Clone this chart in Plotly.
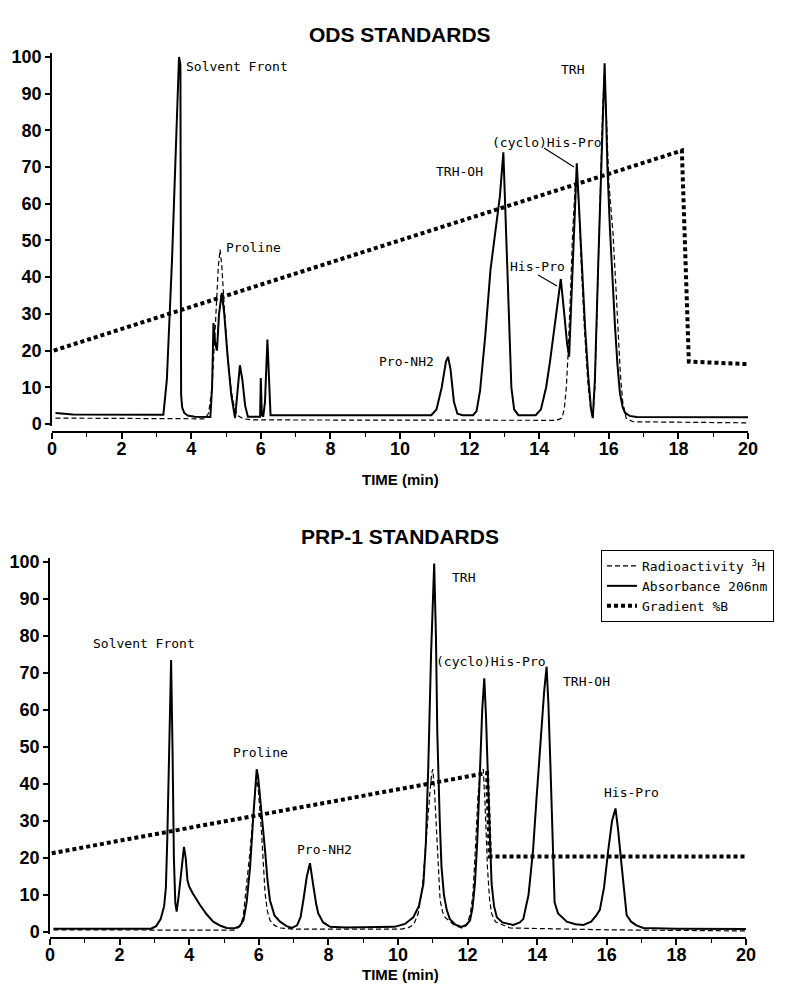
import plotly.graph_objects as go

# ---------------- DATA ----------------
# ODS standards (top panel)
ods_abs_t = [0.1, 0.6, 3.2, 3.3, 3.45, 3.6, 3.65, 3.69, 3.71, 3.74, 3.8, 3.9, 4.1, 4.55,
             4.6, 4.64, 4.69, 4.74, 4.8, 4.88, 4.95, 5.05, 5.15, 5.26, 5.33, 5.40, 5.47, 5.55, 5.63,
             5.98, 6.0, 6.03, 6.07, 6.12, 6.19, 6.24, 6.28, 6.5,
             10.9, 11.05, 11.2, 11.32, 11.38, 11.45, 11.55, 11.65, 11.8,
             12.1, 12.2, 12.3, 12.45, 12.6, 12.75, 12.87, 12.97, 13.02, 13.1, 13.2, 13.28, 13.4,
             13.9, 14.05, 14.2, 14.31, 14.42, 14.5, 14.62, 14.7, 14.8, 14.86, 14.93, 15.0, 15.08,
             15.15, 15.22, 15.32, 15.41, 15.49, 15.54, 15.6, 15.70, 15.78, 15.82, 15.88, 15.92, 15.96,
             16.03, 16.1, 16.18, 16.25, 16.32, 16.4, 16.47, 16.6, 16.8, 20.0]
ods_abs_v = [3.0, 2.6, 2.5, 12, 45, 88, 100, 98, 8, 4.5, 3.0, 2.3, 2.0, 1.9,
             10, 27.5, 22, 20, 30, 35.7, 30, 18, 8, 1.6, 10, 16, 12, 5, 2.0,
             2.0, 12.5, 2.5, 2.0, 6, 23, 10, 2.4, 2.4,
             2.4, 4, 10, 17, 18.3, 15, 6, 2.8, 2.4,
             2.4, 3.5, 9, 24, 42, 53, 62, 74, 62, 38, 10, 4, 2.4,
             2.4, 4, 10, 17, 25, 31, 39.5, 32, 22, 18.3, 35, 55, 71,
             58, 44.7, 26, 12.9, 4, 1.6, 12, 44.7, 70, 81, 98.3, 85, 70,
             53.7, 40, 26.4, 16, 8.4, 4.5, 3.0, 2.2, 1.9, 1.8]

ods_rad_t = [0.1, 4.4, 4.5, 4.6, 4.7, 4.78, 4.83, 4.88, 4.95, 5.05, 5.15, 5.25, 5.35, 5.5, 5.8,
             14.5, 14.65, 14.72, 14.78, 14.83, 14.9, 14.96, 15.03, 15.08, 15.14, 15.2, 15.3, 15.4,
             15.48, 15.54, 15.6, 15.68, 15.75, 15.82, 15.87, 15.93, 16.0, 16.06, 16.12, 16.2, 16.27,
             16.33, 16.4, 16.5, 16.7, 20.0]
ods_rad_v = [1.6, 1.4, 3, 10, 28, 43, 47.5, 43, 32, 18, 9, 4, 2.2, 1.4, 1.1,
             1.0, 1.6, 4, 10, 19, 36, 52, 64, 67, 60, 45, 26, 11,
             4, 1.8, 10, 38, 62, 85, 95, 84, 66, 58, 52, 38, 25,
             14, 6, 1.5, 0.6, 0.3]

ods_grad_t = [0.05, 18.1, 18.3, 20.0]
ods_grad_v = [20.0, 74.5, 17.0, 16.3]

ods_labels = ["Solvent Front", "TRH", "(cyclo)His-Pro", "TRH-OH", "His-Pro", "Proline", "Pro-NH2"]
ods_label_t = [3.8, 14.97, 14.22, 11.72, 13.94, 5.78, 10.2]
ods_label_v = [97.3, 96.5, 76.8, 68.7, 42.8, 48.0, 16.9]

# PRP-1 standards (bottom panel)
prp_abs_t = [0.1, 2.5, 2.9, 3.05, 3.18, 3.28, 3.33, 3.37, 3.42, 3.48, 3.52, 3.56, 3.6, 3.64, 3.7,
             3.78, 3.85, 3.9, 3.95, 4.0, 4.1, 4.31, 4.5, 4.69, 4.9, 5.08, 5.3, 5.45, 5.56, 5.65,
             5.75, 5.84, 5.9, 5.94, 5.98, 6.03, 6.1, 6.18, 6.25, 6.32, 6.45, 6.61, 6.8, 6.95,
             7.1, 7.2, 7.28, 7.38, 7.47, 7.52, 7.57, 7.65, 7.71, 7.85, 8.05, 8.5, 9.5, 9.9, 10.2,
             10.44, 10.6, 10.73, 10.8, 10.87, 10.95, 11.04, 11.09, 11.13, 11.2, 11.25, 11.32, 11.40,
             11.49, 11.65, 11.83, 11.97, 12.07, 12.14, 12.21, 12.28, 12.36, 12.42, 12.48, 12.53,
             12.59, 12.64, 12.69, 12.76, 12.84, 13.0, 13.31, 13.5, 13.6, 13.75, 13.88, 13.98, 14.1,
             14.2, 14.27, 14.32, 14.38, 14.44, 14.5, 14.6, 14.85, 15.1, 15.33, 15.55, 15.7, 15.8,
             15.92, 16.04, 16.15, 16.25, 16.32, 16.43, 16.5, 16.57, 16.7, 16.85, 17.05, 18.0, 20.0]
prp_abs_v = [0.9, 0.8, 0.9, 1.6, 3.5, 7, 12, 25, 50, 73.5, 50, 20, 8, 5.5, 10,
             18, 23, 20, 14, 12.3, 10.5, 7.3, 4.8, 2.8, 1.7, 1.1, 1.0, 1.6, 3.2, 8,
             17.6, 31, 40, 44, 42, 37.4, 30, 22, 14, 8.6, 4.5, 2.8, 1.6, 1.1,
             1.8, 4, 8.6, 15, 18.6, 16, 12.3, 7.5, 5, 2.6, 1.4, 1.2, 1.2, 1.4, 2.2,
             4, 7, 13, 24, 44.7, 75, 99.6, 80, 53.7, 30, 17.6, 10, 6,
             3.5, 2.0, 1.4, 2.0, 3.2, 6.5, 13, 25, 44.7, 60, 68.6, 58,
             40, 25, 13, 7, 4, 2.6, 1.9, 2.6, 3.5, 10, 22, 36, 52,
             65, 71.7, 62, 45, 25, 8, 5, 2.8, 2.1, 1.9, 2.8, 4.5, 6,
             12, 22, 30, 33.4, 28, 17.6, 10, 4.6, 2.8, 1.8, 1.1, 0.9, 0.8]

prp_rad_t = [0.1, 5.3, 5.45, 5.55, 5.65, 5.75, 5.85, 5.9, 5.94, 5.99, 6.08, 6.18, 6.25, 6.32, 6.45,
             6.61, 7.0, 10.1, 10.3, 10.45, 10.58, 10.7, 10.78, 10.86, 10.92, 10.97, 11.0, 11.05,
             11.11, 11.16, 11.21, 11.28, 11.35, 11.6, 11.83, 11.95, 12.0, 12.08, 12.15, 12.2, 12.25,
             12.3, 12.36, 12.45, 12.5, 12.57, 12.63, 12.69, 12.8, 13.0, 13.22, 16.0, 20.0]
prp_rad_v = [0.6, 0.5, 1.5, 4, 13, 22, 33, 39, 42, 38, 26.7, 10.5, 5.5, 3.2, 1.8,
             1.1, 0.8, 0.8, 1.2, 2, 5, 12, 22, 32, 38, 43, 44, 38,
             26.7, 16, 8.6, 5.5, 4, 2, 1.1, 1.6, 2.5, 5, 10, 18, 28,
             37, 43, 44, 35, 17.6, 9, 5, 2.8, 2, 1.1, 0.6, 0.3]

prp_grad_t = [0.05, 12.56, 12.64, 20.0]
prp_grad_v = [21.3, 43.0, 20.4, 20.4]

prp_labels = ["Solvent Front", "Proline", "Pro-NH2", "TRH", "(cyclo)His-Pro", "TRH-OH", "His-Pro"]
prp_label_t = [2.70, 6.06, 7.90, 11.87, 12.67, 15.43, 16.70]
prp_label_v = [78.1, 48.4, 22.4, 95.9, 73.2, 67.6, 37.6]

y_ticks = [0, 10, 20, 30, 40, 50, 60, 70, 80, 90, 100]
x_ticks = [0, 2, 4, 6, 8, 10, 12, 14, 16, 18, 20]

series_names = ["Radioactivity <sup>3</sup>H", "Absorbance 206nm", "Gradient %B"]

# ---------------- FIGURE ----------------
W, H = 789, 988
LABEL_FONT = dict(family="DejaVu Sans Mono", size=13, color="black")
TICK_FONT = dict(family="Liberation Sans", size=18, color="black", weight="bold")

fig = go.Figure()

RAD_DASH = "5px,3px"
GRAD_DASH = "4px,3px"

def add_panel(xa, ya, rad_t, rad_v, abs_t, abs_v, grad_t, grad_v, legend):
    fig.add_trace(go.Scatter(x=rad_t, y=rad_v, mode="lines", xaxis=xa, yaxis=ya,
                             line=dict(color="black", width=1.2, dash=RAD_DASH),
                             name=series_names[0], showlegend=legend))
    fig.add_trace(go.Scatter(x=abs_t, y=abs_v, mode="lines", xaxis=xa, yaxis=ya,
                             line=dict(color="black", width=2),
                             name=series_names[1], showlegend=legend))
    fig.add_trace(go.Scatter(x=grad_t, y=grad_v, mode="lines", xaxis=xa, yaxis=ya,
                             line=dict(color="black", width=4, dash=GRAD_DASH),
                             name=series_names[2], showlegend=legend))

add_panel("x", "y", ods_rad_t, ods_rad_v, ods_abs_t, ods_abs_v, ods_grad_t, ods_grad_v, False)
add_panel("x2", "y2", prp_rad_t, prp_rad_v, prp_abs_t, prp_abs_v, prp_grad_t, prp_grad_v, True)

xax = dict(range=[0, 20], tickvals=x_ticks, ticks="outside", ticklen=6, tickwidth=1.5,
           tickcolor="black", showline=True, linecolor="black", linewidth=1.5,
           showgrid=False, zeroline=False, tickfont=TICK_FONT, anchor="free",
           ticklabelstandoff=-5,
           minor=dict(dtick=1, ticks="outside", ticklen=4, tickcolor="black", tickwidth=1.2),
           automargin=False)
yax = dict(range=[-0.5, 101], tickvals=y_ticks, ticks="outside", ticklen=5, tickwidth=1.5,
           tickcolor="black", showline=True, linecolor="black", linewidth=1.5,
           showgrid=False, zeroline=False, tickfont=TICK_FONT, automargin=False)

fig.update_layout(
    width=W, height=H,
    margin=dict(l=0, r=0, t=0, b=0),
    paper_bgcolor="white", plot_bgcolor="white",
    xaxis=dict(xax, domain=[52 / W, 748 / W], position=1 - 432 / H),
    yaxis=dict(yax, domain=[1 - 425.8 / H, 1 - 53.3 / H], anchor="x"),
    xaxis2=dict(xax, domain=[50 / W, 746 / W], position=1 - 938 / H),
    yaxis2=dict(yax, domain=[1 - 933.9 / H, 1 - 558.3 / H], anchor="x2"),
    legend=dict(x=601 / W, y=1 - 550 / H, xanchor="left", yanchor="top",
                bgcolor="white", bordercolor="black", borderwidth=1,
                font=dict(family="DejaVu Sans Mono", size=13, color="black"),
                itemwidth=30, tracegroupgap=0),
    showlegend=True,
)

annotations = []
# titles
for txt, yp, sz in [("ODS STANDARDS", 35, 21), ("PRP-1 STANDARDS", 536, 21),
                    ("TIME (min)", 480, 15), ("TIME (min)", 974, 15)]:
    annotations.append(dict(text=txt, x=400 / W, y=1 - yp / H, xref="paper", yref="paper",
                            xanchor="center", yanchor="middle", showarrow=False,
                            font=dict(family="Liberation Sans", size=sz, color="black", weight="bold")))

for i, (lab, t, v) in enumerate(zip(ods_labels, ods_label_t, ods_label_v)):
    annotations.append(dict(text=lab, x=t, y=v, xref="x", yref="y",
                            xanchor="left" if i == 0 else "center", yanchor="middle",
                            showarrow=False, font=LABEL_FONT))
for lab, t, v in zip(prp_labels, prp_label_t, prp_label_v):
    annotations.append(dict(text=lab, x=t, y=v, xref="x2", yref="y2",
                            xanchor="center", yanchor="middle", showarrow=False, font=LABEL_FONT))

fig.update_layout(annotations=annotations)

# pointer lines in the ODS panel
fig.add_shape(type="line", xref="x", yref="y", x0=14.14, y0=75.2, x1=15.0, y1=70.0,
              line=dict(color="black", width=1.2))
fig.add_shape(type="line", xref="x", yref="y", x0=13.97, y0=40.6, x1=14.51, y1=37.6,
              line=dict(color="black", width=1.2))

# remove the page's default body margin so the figure fills the window exactly
fig.write_html("out.html", config={"displayModeBar": False},
               post_script="document.body.style.margin='0';document.body.style.overflow='hidden';")
